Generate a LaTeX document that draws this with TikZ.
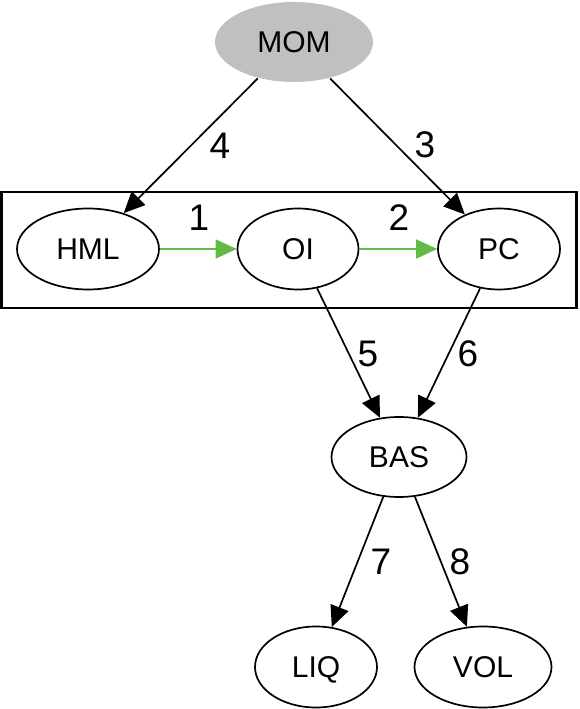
\documentclass[tikz,border=0pt]{standalone}
\usepackage{fontspec}
\setmainfont{Liberation Sans}
\usetikzlibrary{shapes.geometric,arrows.meta}
\definecolor{momgray}{RGB}{192,192,192}
\definecolor{edgegreen}{RGB}{98,187,70}
\begin{document}
\begin{tikzpicture}[x=1pt,y=1pt,
  var/.style={ellipse,draw=black,line width=1.7pt,inner sep=0pt,
    font=\fontsize{30}{30}\selectfont,text height=21.6pt,text depth=0pt},
  edgelbl/.style={font=\fontsize{37}{37}\selectfont,inner sep=0pt,text height=26.6pt,text depth=0pt},
  arr/.style={draw=black,line width=1.7pt,-{Triangle[length=21pt,width=19pt]}},
  garr/.style={draw=edgegreen,line width=1.5pt,-{Triangle[length=21pt,width=19pt]}},
  clusterbox/.style={draw=black,line width=2.2pt,inner sep=0pt}]
\useasboundingbox (0,0) rectangle (579,709);
\node[clusterbox,minimum width=575pt,minimum height=116pt] (cluster) at (289,459) {};
\node[var,fill=momgray,draw=none,minimum width=158pt,minimum height=80pt] (MOM) at (294,667) {MOM};
\node[var,minimum width=142pt,minimum height=81pt] (HML) at (88,460) {HML};
\node[var,minimum width=121pt,minimum height=81pt] (OI) at (298,460) {OI};
\node[var,minimum width=122pt,minimum height=81pt] (PC) at (499,460) {PC};
\node[var,minimum width=135pt,minimum height=80pt] (BAS) at (399,252) {BAS};
\node[var,minimum width=122pt,minimum height=81pt] (LIQ) at (316,42) {LIQ};
\node[var,minimum width=137pt,minimum height=81pt] (VOL) at (483,42) {VOL};
\draw[garr] (HML) -- (OI);
\draw[garr] (OI) -- (PC);
\draw[arr] (MOM) -- (PC);
\draw[arr] (MOM) -- (HML);
\draw[arr] (OI) -- (BAS);
\draw[arr] (PC) -- (BAS);
\draw[arr] (BAS) -- (LIQ);
\draw[arr] (BAS) -- (VOL);
\node[edgelbl] (l1) at (199,492) {1};
\node[edgelbl] (l2) at (399,492) {2};
\node[edgelbl] (l3) at (425,565) {3};
\node[edgelbl] (l4) at (220,564) {4};
\node[edgelbl] (l5) at (368,356) {5};
\node[edgelbl] (l6) at (468,356) {6};
\node[edgelbl] (l7) at (381,148) {7};
\node[edgelbl] (l8) at (460,148) {8};
\end{tikzpicture}
\end{document}
